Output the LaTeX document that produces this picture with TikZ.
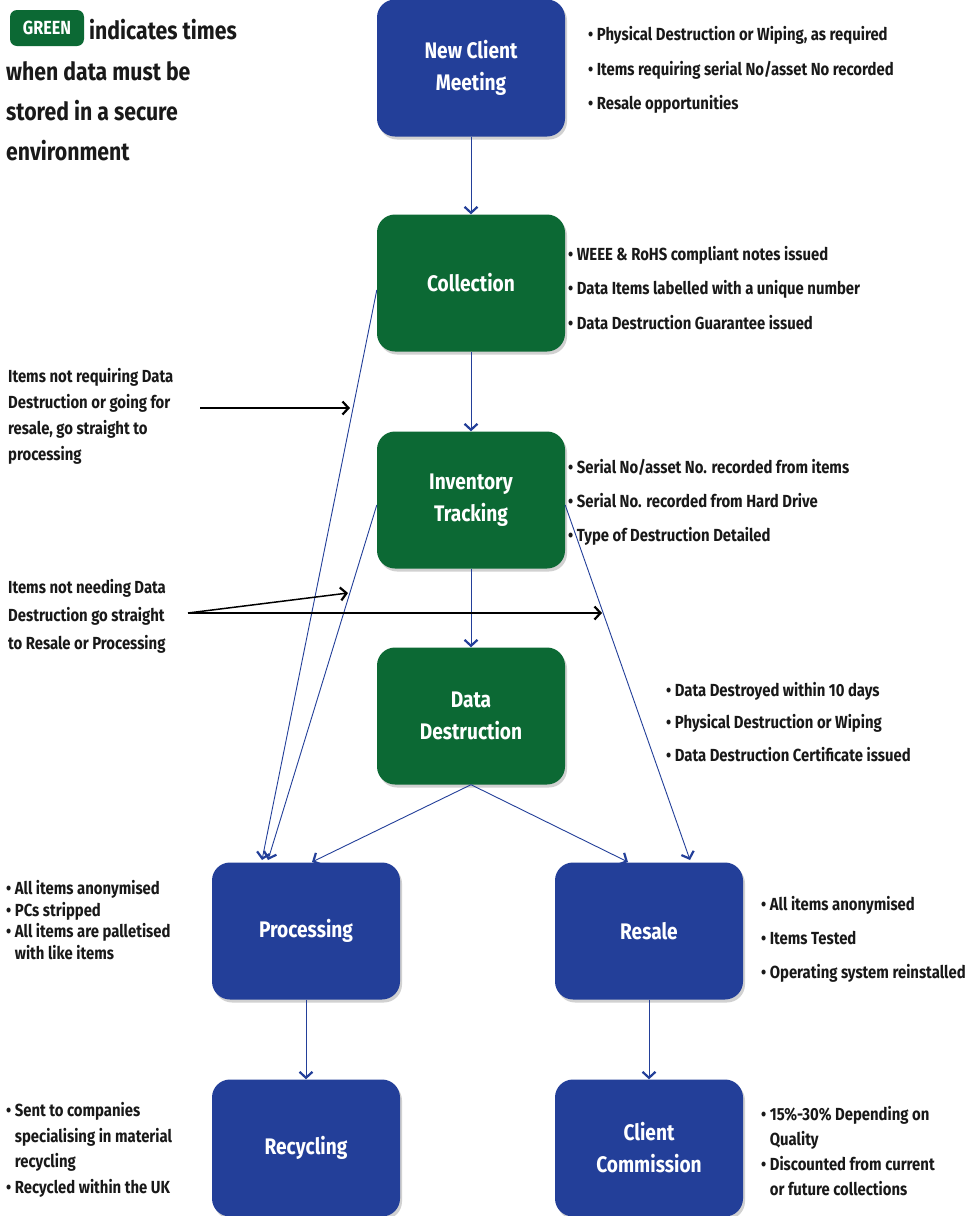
\documentclass[tikz,border=0pt]{standalone}
\usepackage{fontspec}
\setmainfont{Fira Sans}[FakeStretch=0.85]
\usetikzlibrary{arrows.meta,shadows}
\definecolor{cblue}{HTML}{233F99}
\definecolor{cgreen}{HTML}{0C6934}
\begin{document}
\begin{tikzpicture}[x=1pt,y=-1pt,
  box/.style={rounded corners=18pt, minimum width=188pt, minimum height=137pt,
    text=white, font=\bfseries\fontsize{22.5}{32}\selectfont, align=center, inner sep=0pt,
    drop shadow={shadow xshift=2pt, shadow yshift=-3pt, fill=black, opacity=0.18}},
  bbox/.style={box, fill=cblue},
  gbox/.style={box, fill=cgreen},
  note/.style={anchor=west, align=left, inner sep=0pt, text=black!90},
  flow/.style={draw=cblue, line width=0.9pt, -{Straight Barb[length=6pt,width=13pt,line width=2.2pt]}},
  blk/.style={draw=black, line width=1.5pt, -{Straight Barb[length=6pt,width=13pt,line width=2.2pt]}}
]
\useasboundingbox[fill=white] (0,0) rectangle (970,1216);

% legend
\node[fill=cgreen, rounded corners=7pt, text=white, minimum width=74pt, minimum height=36pt, inner sep=0pt,
  font=\bfseries\fontsize{19}{20}\selectfont] (badge) at (47,28) {GREEN};
\node[note, font=\bfseries\fontsize{25}{40}\selectfont] (leg1) at (89,30) {indicates times};
\node[note, font=\bfseries\fontsize{25}{40}\selectfont] (leg2) at (6,111) {when data must be\\stored in a secure\\environment};

% boxes
\node[bbox] (ncm) at (471,68) {New Client\\Meeting};
\node[gbox] (col) at (471,283) {Collection};
\node[gbox] (inv) at (471,500) {Inventory\\Tracking};
\node[gbox] (dd) at (471,716) {Data\\Destruction};
\node[bbox] (proc) at (306,931) {Processing};
\node[bbox] (res) at (649,931) {Resale};
\node[bbox] (rec) at (306,1148) {Recycling};
\node[bbox] (cc) at (649,1148) {Client\\Commission};

% bullet notes
\node[note, font=\bfseries\fontsize{17.5}{34.5}\selectfont] (n1) at (588,70)
  {• Physical Destruction or Wiping, as required\\• Items requiring serial No/asset No recorded\\• Resale opportunities};
\node[note, font=\bfseries\fontsize{17.5}{34.5}\selectfont] (n2) at (568,288)
  {• WEEE \& RoHS compliant notes issued\\• Data Items labelled with a unique number\\• Data Destruction Guarantee issued};
\node[note, font=\bfseries\fontsize{17.5}{34}\selectfont] (n3) at (568,502)
  {• Serial No/asset No. recorded from items\\• Serial No. recorded from Hard Drive\\• Type of Destruction Detailed};
\node[note, font=\bfseries\fontsize{17.5}{32.5}\selectfont] (n4) at (666,722)
  {• Data Destroyed within 10 days\\• Physical Destruction or Wiping\\• Data Destruction Certificate issued};
\node[note, font=\bfseries\fontsize{17.5}{34}\selectfont] (n5) at (761,939)
  {• All items anonymised\\• Items Tested\\• Operating system reinstalled};
\node[note, font=\bfseries\fontsize{17.5}{25}\selectfont] (n6) at (761,1151)
  {• 15\%-30\% Depending on\\\phantom{• }Quality\\• Discounted from current\\\phantom{• }or future collections};
\node[note, font=\bfseries\fontsize{17.5}{21.5}\selectfont] (n7) at (6,920)
  {• All items anonymised\\• PCs stripped\\• All items are palletised\\\phantom{• }with like items};
\node[note, font=\bfseries\fontsize{17.5}{25.5}\selectfont] (n8) at (6,1150)
  {• Sent to companies\\\phantom{• }specialising in material\\\phantom{• }recycling\\• Recycled within the UK};
\node[note, font=\bfseries\fontsize{17.5}{26}\selectfont] (n9) at (8,416)
  {Items not requiring Data\\Destruction or going for\\resale, go straight to\\processing};
\node[note, font=\bfseries\fontsize{17.5}{28}\selectfont] (n10) at (8,616)
  {Items not needing Data\\Destruction go straight\\to Resale or Processing};

% vertical flow
\draw[flow] (ncm) -- (col);
\draw[flow] (col) -- (inv);
\draw[flow] (inv) -- (dd);
\draw[flow] (proc) -- (rec);
\draw[flow] (res) -- (cc);

% diagonal flow
\coordinate (pa) at (262,860);
\coordinate (pb) at (268,860);
\coordinate (pc) at (312,862);
\coordinate (ra) at (628,862);
\coordinate (rb) at (690,860);
\draw[flow] ([yshift=-7pt]col.west) -- (pa);
\draw[flow] ([yshift=-5pt]inv.west) -- (pb);
\draw[flow] (dd.south) -- (pc);
\draw[flow] (dd.south) -- (ra);
\draw[flow] ([yshift=-5pt]inv.east) -- (rb);

% black arrows
\coordinate (t1) at (200,408);
\coordinate (h1) at (350,408);
\coordinate (t2) at (188,613);
\coordinate (h2) at (348,593);
\coordinate (h3) at (602,613);
\draw[blk] (t1) -- (h1);
\draw[blk] (t2) -- (h2);
\draw[blk] (t2) -- (h3);
\end{tikzpicture}
\end{document}
